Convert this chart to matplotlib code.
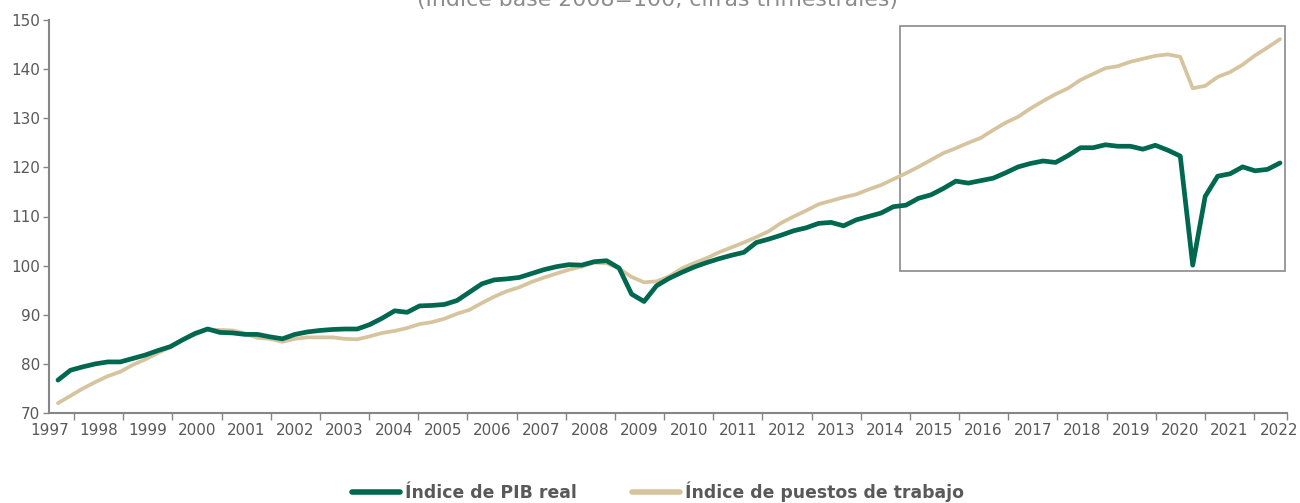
import matplotlib
matplotlib.use("Agg")
import matplotlib.pyplot as plt
from matplotlib.patches import Rectangle

# Quarterly series, 1997T3 .. 2022T1
quarters = [f"{y}T{q}" for y in range(1997, 2023) for q in (1, 2, 3, 4)][2:101]

pib_real = [
    76.7, 78.7, 79.4, 80.0, 80.4, 80.4, 81.1, 81.8, 82.7, 83.5,
    84.9, 86.2, 87.1, 86.4, 86.3, 86.0, 86.0, 85.5, 85.1, 86.0,
    86.5, 86.8, 87.0, 87.1, 87.1, 88.0, 89.3, 90.8, 90.5, 91.8,
    91.9, 92.1, 92.9, 94.6, 96.3, 97.1, 97.3, 97.6, 98.4, 99.2,
    99.8, 100.2, 100.1, 100.8, 101.0, 99.5, 94.2, 92.7, 95.9, 97.4,
    98.6, 99.7, 100.6, 101.4, 102.1, 102.7, 104.7, 105.4, 106.2, 107.1,
    107.7, 108.6, 108.8, 108.1, 109.3, 110.0, 110.7, 112.0, 112.3, 113.7,
    114.4, 115.7, 117.2, 116.8, 117.3, 117.8, 118.9, 120.1, 120.8, 121.3,
    121.0, 122.4, 124.0, 124.0, 124.6, 124.3, 124.3, 123.7, 124.5, 123.5,
    122.3, 100.1, 114.1, 118.2, 118.7, 120.1, 119.3, 119.6, 120.9,
]

puestos_trabajo = [
    72.0, 73.5, 75.0, 76.3, 77.5, 78.4, 79.8, 80.9, 82.2, 83.4,
    84.9, 86.0, 87.0, 86.9, 86.8, 86.2, 85.3, 85.1, 84.5, 85.1,
    85.4, 85.4, 85.4, 85.1, 85.0, 85.6, 86.3, 86.7, 87.3, 88.1,
    88.5, 89.2, 90.2, 91.0, 92.4, 93.7, 94.8, 95.6, 96.7, 97.6,
    98.4, 99.2, 99.8, 100.6, 100.5, 99.4, 97.7, 96.6, 96.8, 97.8,
    99.4, 100.5, 101.5, 102.7, 103.7, 104.7, 105.8, 107.0, 108.7, 110.0,
    111.2, 112.5, 113.2, 113.9, 114.5, 115.5, 116.4, 117.6, 118.8, 120.1,
    121.5, 122.9, 123.9, 125.0, 126.0, 127.6, 129.1, 130.3, 132.0, 133.5,
    134.9, 136.1, 137.8, 139.0, 140.2, 140.6, 141.5, 142.1, 142.7, 143.0,
    142.5, 136.1, 136.6, 138.4, 139.4, 140.9, 142.8, 144.4, 146.1,
]

year_labels = [str(y) for y in range(1997, 2023)]
y_ticks = [70, 80, 90, 100, 110, 120, 130, 140, 150]

title = "(Índice base 2008=100, cifras trimestrales)"
label_pib = "Índice de PIB real"
label_emp = "Índice de puestos de trabajo"

GREEN = "#00684F"
BEIGE = "#D6C49F"
GRAY = "#868686"
TXT = "#595959"

plt.rcParams["font.family"] = ["DejaVu Sans"]

W, H = 1300, 503
fig = plt.figure(figsize=(W / 100, H / 100), dpi=100)
ax = fig.add_axes([49 / W, (H - 413) / H, (1287 - 49) / W, (413 - 20) / H])

x = list(range(len(quarters)))
ax.add_patch(Rectangle((67.5, 98.9), 30.9, 49.9, fill=False,
                       edgecolor="#8a8a8a", linewidth=1.2, zorder=1))
l1, = ax.plot(x, pib_real, color=GREEN, linewidth=3.4, solid_capstyle="round",
              solid_joinstyle="round", zorder=3, label=label_pib)
l2, = ax.plot(x, puestos_trabajo, color=BEIGE, linewidth=2.7, solid_capstyle="round",
              solid_joinstyle="round", zorder=2, label=label_emp)
ax.set_xlim(-0.72, 98.56)
ax.set_ylim(70, 150)
ax.set_yticks(y_ticks)
ax.tick_params(axis="y", length=4.5, width=1.0, color=GRAY, labelsize=11,
               labelcolor=TXT, pad=2)
for s in ("top", "right"):
    ax.spines[s].set_visible(False)
for s in ("left", "bottom"):
    ax.spines[s].set_color(GRAY)
    ax.spines[s].set_linewidth(1.5)

# year axis (category-style labels centred between year ticks)
ax2 = ax.twiny()
ax.set_xticks([])
ax.tick_params(axis="x", bottom=False, top=False, labelbottom=False, labeltop=False)
ax2.set_xlim(1997.49, 2022.67)
ax2.xaxis.set_ticks_position("bottom")
ax2.xaxis.set_label_position("bottom")
for s in ax2.spines.values():
    s.set_visible(False)
years = [int(v) for v in year_labels]
ax2.set_xticks(years[1:] + [2022.67])
ax2.set_xticklabels([])
ax2.set_xticks([y + 0.5 for y in years], minor=True)
ax2.set_xticklabels(year_labels, minor=True)
ax2.tick_params(axis="x", which="major", length=5, width=1.0, color=GRAY)
ax2.tick_params(axis="x", which="minor", length=0, labelsize=11,
                labelcolor=TXT, pad=7)

fig.text(657 / W, 1 - 6.0 / H, title, ha="center", va="baseline",
         fontsize=15.8, color="#8c8c8c")

leg = fig.legend(handles=[l1, l2], loc="center", ncol=2,
                 bbox_to_anchor=(658 / W, 1 - 492 / H), frameon=False,
                 handlelength=2.8, handletextpad=0.3, columnspacing=3.2,
                 prop={"size": 12.4, "weight": "bold"})
for t in leg.get_texts():
    t.set_color(TXT)
for h in leg.legend_handles:
    h.set_linewidth(4.0)
    h.set_solid_capstyle("round")

fig.savefig("out.png", dpi=100)
